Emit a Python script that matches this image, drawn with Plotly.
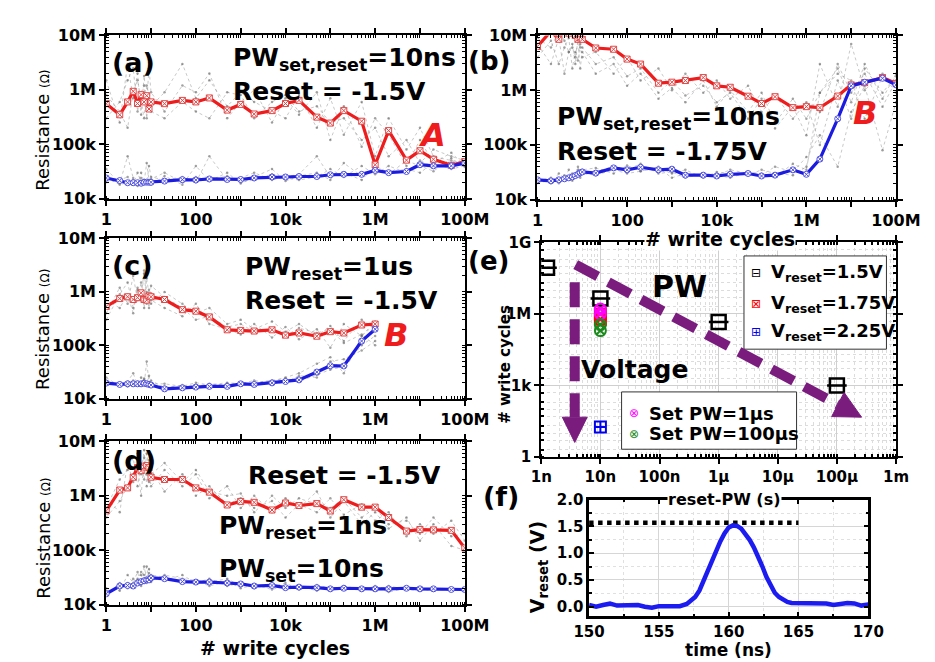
import math
import plotly.graph_objects as go

W, H = 935, 662
FONT = "DejaVu Sans"

# ---------------- data ----------------
cycles = [1, 2, 3, 4, 5, 6, 7, 8, 9, 10, 20, 50, 100, 200, 500,
          1e3, 2e3, 5e3, 1e4, 2e4, 5e4, 1e5, 2e5, 5e5, 1e6,
          2e6, 5e6, 1e7, 2e7, 5e7, 1e8]
cycles_c = cycles[:25]

# resistances in kOhm
a_hrs_k = [557, 348, 600, 940, 560, 815, 600, 780, 445, 600,
           557, 640, 600, 710, 425, 540, 360, 415, 560, 640,
           315, 245, 415, 265, 42, 178, 51, 76, 53, 41, 48]
a_lrs_k = [24, 21.5, 19.6, 19.6, 19.6, 19.2, 20, 20.1, 20, 20,
           21, 22.3, 22, 23, 22.5, 22.5, 24, 25, 25, 25.5,
           25.5, 27.5, 28, 28, 33, 30, 31.5, 42, 40, 40, 45]
a_gray_k = [
    [300, 600, 1500, 2500, 400, 900, 1200, 300, 700, 500, 900, 3000, 700, 1500, 500, 900,
     600, 400, 300, 800, 200, 700, 150, 600, 60, 300, 80, 200, 60, 50, 45],
    [800, 400, 200, 900, 1500, 600, 300, 1200, 800, 400, 300, 600, 400, 300, 900, 800,
     300, 600, 800, 400, 500, 250, 300, 120, 200, 60, 120, 45, 80, 60, 50],
    [1500, 250, 3000, 700, 2000, 350, 1800, 600, 2500, 900, 400, 1200, 900, 2000, 300, 600,
     1000, 250, 700, 350, 900, 120, 500, 90, 300, 150, 40, 120, 45, 70, 40],
    [20, 22, 25, 18, 30, 20, 22, 19, 40, 25, 22, 25, 20, 60, 22, 24,
     30, 22, 25, 28, 60, 25, 30, 22, 40, 30, 35, 30, 45, 35, 40],
    [25, 18, 20, 22, 17, 24, 19, 21, 20, 23, 30, 20, 25, 22, 26, 20,
     22, 28, 24, 22, 25, 35, 25, 40, 28, 40, 30, 50, 38, 42, 50],
    [35, 19, 60, 24, 18, 30, 20, 45, 22, 18, 26, 18, 40, 21, 30, 19,
     25, 35, 21, 26, 30, 22, 45, 26, 35, 28, 50, 40, 32, 55, 38],
]

b_hrs_k = [6300, 12000, 8500, 13000, 11000, 14000, 10000, 8500, 9000, 8500,
           5900, 5600, 3700, 3000, 1340, 1400, 1500, 1700, 1200, 1130,
           776, 570, 760, 480, 500, 480, 780, 1250, 1370, 1700, 1330]
b_lrs_k = [23, 22, 23, 24, 25, 26, 27.5, 29, 31, 32,
           30.5, 38, 35, 39, 35, 36, 28, 28, 27, 29,
           30, 27, 28, 35, 29, 55, 300, 1200, 1400, 1650, 1250]
b_gray_k = [
    [9000, 6000, 12000, 8000, 5000, 7000, 3000, 9000, 6000, 4000, 5000, 2000, 4000, 1500, 2500,
     1000, 2000, 900, 1500, 700, 1200, 400, 800, 300, 600, 100, 1500, 300, 2500, 900, 1800],
    [4000, 8000, 3000, 6000, 9000, 2500, 5000, 3500, 7000, 6000, 3000, 4000, 1800, 2500, 900,
     1500, 800, 1200, 600, 900, 300, 700, 200, 500, 150, 3000, 500, 7000, 1000, 2000, 900],
    [7000, 3000, 9000, 2000, 5000, 6000, 4000, 8000, 2500, 5000, 2000, 3000, 1200, 2000, 700,
     1100, 600, 1500, 500, 1000, 400, 900, 250, 700, 300, 900, 2500, 600, 3000, 700, 2000],
    [22, 25, 20, 28, 24, 30, 26, 35, 28, 30, 33, 40, 35, 45, 30,
     32, 25, 30, 28, 35, 30, 28, 40, 32, 60, 150, 40, 400, 1200, 80, 600],
    [20, 22, 24, 22, 26, 25, 30, 28, 32, 35, 38, 30, 42, 33, 38,
     25, 30, 26, 28, 25, 32, 30, 26, 45, 35, 900, 2000, 1500, 300, 1800, 1200],
    [25, 20, 30, 24, 35, 22, 28, 40, 25, 30, 28, 35, 30, 33, 40,
     30, 35, 25, 32, 30, 28, 35, 30, 28, 40, 400, 3000, 900, 2000, 500, 1500],
]

c_hrs_k = [534, 750, 810, 720, 780, 960, 720, 700, 840, 810,
           720, 465, 435, 340, 195, 190, 185, 195, 155, 170,
           148, 180, 170, 240, 250]
c_lrs_k = [19.6, 18.5, 19, 19, 19, 19, 19.5, 19, 18.5, 18,
           15.3, 16, 16.5, 17, 17, 19, 18.5, 19.8, 21, 22.5,
           31.6, 41.5, 41, 120, 200]
c_gray_k = [
    [400, 1200, 600, 2000, 700, 1500, 500, 1800, 900, 600, 1000, 600, 400, 500, 250,
     300, 200, 280, 180, 250, 150, 230, 120, 300, 200],
    [700, 500, 900, 400, 1200, 800, 2500, 600, 1100, 700, 500, 350, 600, 250, 200,
     160, 250, 140, 220, 130, 200, 90, 250, 150, 280],
    [300, 900, 1500, 500, 1100, 700, 2200, 1000, 500, 1300, 800, 500, 300, 350, 220,
     250, 180, 200, 150, 210, 170, 200, 110, 160, 100],
    [18, 20, 17, 22, 19, 25, 18, 50, 20, 18, 17, 16, 18, 17, 19,
     18, 20, 22, 24, 21, 28, 35, 40, 100, 150],
    [22, 18, 20, 19, 21, 18, 23, 20, 19, 22, 16, 18, 17, 19, 18,
     20, 19, 21, 25, 30, 45, 60, 30, 150, 250],
    [25, 17, 21, 30, 18, 20, 24, 19, 27, 19, 19, 17, 20, 18, 20,
     19, 22, 19, 20, 27, 25, 50, 55, 80, 120],
]

d_hrs_k = [527, 1280, 1400, 2200, 3300, 2900, 3400, 3600, 3300, 2200,
           2000, 2000, 1400, 1170, 680, 790, 760, 550, 740, 665,
           720, 527, 850, 620, 620, 400, 225, 240, 237, 232, 110]
d_lrs_k = [15.8, 22, 22.5, 22, 25, 26.5, 27.5, 28.5, 28.5, 31,
           30, 26.5, 26, 26, 25, 24, 22, 22.5, 20.5, 21,
           20.5, 19.5, 20, 19.5, 19.5, 19.5, 20, 19.5, 19.5, 19, 19]
d_gray_k = [
    [600, 2000, 3000, 5000, 1500, 4000, 2000, 6000, 3000, 1500, 3000, 1500, 2500, 900, 1500,
     600, 1000, 500, 900, 600, 1200, 400, 800, 300, 500, 250, 400, 150, 300, 120, 100],
    [400, 800, 1500, 2500, 3500, 1000, 5000, 2500, 1800, 3000, 1200, 2500, 1000, 1500, 700,
     900, 600, 800, 400, 700, 500, 900, 450, 700, 350, 500, 180, 300, 200, 350, 150],
    [900, 500, 4000, 1800, 6000, 2500, 7000, 1500, 4500, 2500, 4000, 1800, 3000, 1200, 1000,
     1100, 500, 1000, 600, 900, 700, 600, 900, 400, 600, 300, 350, 200, 400, 180, 200],
    [15, 25, 20, 30, 28, 40, 35, 25, 45, 30, 28, 35, 25, 30, 22,
     25, 20, 24, 19, 22, 18, 21, 19, 20, 18, 22, 19, 18, 20, 19, 18],
    [18, 20, 25, 22, 30, 35, 25, 50, 28, 35, 32, 25, 28, 22, 27,
     20, 23, 19, 22, 20, 21, 18, 22, 19, 21, 17, 20, 19, 18, 20, 17],
    [20, 18, 35, 25, 40, 22, 50, 30, 38, 26, 35, 30, 28, 26, 30,
     22, 24, 21, 25, 19, 23, 20, 21, 18, 22, 19, 21, 20, 19, 18, 20],
]

# (e) endurance vs reset pulse width
e_pw_15 = [1.25e-9, 1e-8, 1e-6, 1e-4]
e_cyc_15 = [8.7e7, 4.4e6, 4.6e5, 1.0e3]
e_pw_175 = [1e-8, 1e-8]
e_cyc_175 = [1.0e6, 6.0e5]
e_pw_225 = [1e-8]
e_cyc_225 = [18]
e_pw_set1us = [1e-8, 1e-8]
e_cyc_set1us = [1.6e6, 1.0e6]
e_pw_set100us = [1e-8, 1e-8]
e_cyc_set100us = [3.5e5, 2.0e5]

# (f) reset pulse waveform
f_time = [150.0, 150.5, 151.0, 151.5, 152.0, 152.5, 153.0, 153.5, 154.0, 154.5,
          155.0, 155.5, 156.0, 156.5, 157.0, 157.3, 157.6, 157.9, 158.2, 158.5,
          158.8, 159.1, 159.4, 159.7, 160.0, 160.3, 160.6, 160.9, 161.2, 161.5,
          161.8, 162.1, 162.4, 162.7, 163.0, 163.3, 163.6, 163.9, 164.2, 164.5,
          165.0, 165.5, 166.0, 166.5, 167.0, 167.5, 168.0, 168.5, 169.0, 169.5, 170.0]
f_volt = [0.03, 0.00, 0.03, 0.06, 0.02, 0.03, 0.03, 0.03, 0.00, -0.02,
          0.01, 0.01, 0.02, 0.01, 0.05, 0.13, 0.18, 0.30, 0.49, 0.67,
          0.85, 1.04, 1.22, 1.37, 1.48, 1.52, 1.51, 1.46, 1.37, 1.25,
          1.11, 0.95, 0.76, 0.56, 0.40, 0.26, 0.18, 0.13, 0.09, 0.07,
          0.07, 0.08, 0.07, 0.08, 0.06, 0.03, 0.06, 0.07, 0.06, 0.02, 0.04]
f_level_time = [150, 165]
f_level_volt = [1.57, 1.57]

# tick labels
res_x_tickvals = [1, 10, 100, 1e3, 1e4, 1e5, 1e6, 1e7, 1e8]
res_x_ticktext = ["1", "", "100", "", "10k", "", "1M", "", "100M"]
res_y_tickvals = [1e4, 1e5, 1e6, 1e7]
res_y_ticktext = ["10k", "100k", "1M", "10M"]
e_x_tickvals = [1e-9, 1e-8, 1e-7, 1e-6, 1e-5, 1e-4, 1e-3]
e_x_ticktext = ["1n", "10n", "100n", "1μ", "10μ", "100μ", "1m"]
e_y_tickvals = [1, 1e3, 1e6, 1e9]
e_y_ticktext = ["1", "1k", "1M", "1G"]
f_x_tickvals = [150, 155, 160, 165, 170]
f_y_tickvals = [0.0, 0.5, 1.0, 1.5, 2.0]

RED = "#ee1c1c"
BLUE = "#1c1ce0"
PURPLE = "#7a1c7e"

fig = go.Figure()


def kohm(vals):
    return [v * 1e3 for v in vals]


def add_panel(xs, hrs, lrs, grays, n):
    xa = "x" if n == 1 else f"x{n}"
    ya = "y" if n == 1 else f"y{n}"
    for g in grays:
        fig.add_trace(go.Scatter(
            x=xs, y=kohm(g), xaxis=xa, yaxis=ya, mode="lines+markers",
            line=dict(color="rgba(140,140,140,0.6)", width=0.8, dash="dot"),
            marker=dict(size=2.5, color="rgba(100,100,100,0.6)"),
            showlegend=False, hoverinfo="skip"))
    fig.add_trace(go.Scatter(
        x=xs, y=kohm(hrs), xaxis=xa, yaxis=ya, mode="lines+markers",
        line=dict(color=RED, width=3.2),
        marker=dict(symbol="square-x", size=6, color="white",
                    line=dict(color="#e04848", width=1)),
        showlegend=False))
    fig.add_trace(go.Scatter(
        x=xs, y=kohm(lrs), xaxis=xa, yaxis=ya, mode="lines+markers",
        line=dict(color=BLUE, width=3.2),
        marker=dict(symbol="circle-x", size=6, color="white",
                    line=dict(color="#5050e0", width=1)),
        showlegend=False))


add_panel(cycles, a_hrs_k, a_lrs_k, a_gray_k, 1)
add_panel(cycles, b_hrs_k, b_lrs_k, b_gray_k, 2)
add_panel(cycles_c, c_hrs_k, c_lrs_k, c_gray_k, 3)
add_panel(cycles, d_hrs_k, d_lrs_k, d_gray_k, 4)

# (e)
fig.add_trace(go.Scatter(x=e_pw_15, y=e_cyc_15, xaxis="x5", yaxis="y5", mode="markers",
                         marker=dict(symbol="square-open", size=14, color="black",
                                     line=dict(width=2.5)), showlegend=False))
fig.add_trace(go.Scatter(x=e_pw_15, y=e_cyc_15, xaxis="x5", yaxis="y5", mode="markers",
                         marker=dict(symbol="line-ew-open", size=14, color="black",
                                     line=dict(width=2.5)), showlegend=False))
fig.add_trace(go.Scatter(x=e_pw_175, y=e_cyc_175, xaxis="x5", yaxis="y5", mode="markers",
                         marker=dict(symbol="square-x-open", size=11, color="red",
                                     line=dict(width=2)), showlegend=False))
fig.add_trace(go.Scatter(x=e_pw_set1us, y=e_cyc_set1us, xaxis="x5", yaxis="y5", mode="markers",
                         marker=dict(symbol="circle-x-open", size=11, color="#ff00ff",
                                     line=dict(width=2)), showlegend=False))
fig.add_trace(go.Scatter(x=e_pw_set100us, y=e_cyc_set100us, xaxis="x5", yaxis="y5", mode="markers",
                         marker=dict(symbol="circle-x-open", size=11, color="#1a8a1a",
                                     line=dict(width=2)), showlegend=False))
fig.add_trace(go.Scatter(x=e_pw_225, y=e_cyc_225, xaxis="x5", yaxis="y5", mode="markers",
                         marker=dict(symbol="square-cross-open", size=11, color="#0000ee",
                                     line=dict(width=2)), showlegend=False))

# (f)
fig.add_trace(go.Scatter(x=f_level_time, y=f_level_volt, xaxis="x6", yaxis="y6", mode="lines",
                         line=dict(color="black", width=4.5, dash="4.5px,4.5px"), showlegend=False))
fig.add_trace(go.Scatter(x=f_time, y=f_volt, xaxis="x6", yaxis="y6", mode="lines",
                         line=dict(color="#1c1cf0", width=4.5), showlegend=False))


def pxdom(a, b, axis="x"):
    if axis == "x":
        return [a / W, b / W]
    return [1 - b / H, 1 - a / H]


def frame(**kw):
    d = dict(showline=True, linecolor="black", linewidth=2, mirror="ticks",
             ticks="outside", ticklen=5, tickwidth=1.5, tickcolor="black",
             showgrid=False, zeroline=False,
             tickfont=dict(family=FONT, size=16, color="black", weight="bold"))
    d.update(kw)
    return d


minor_log = dict(ticks="inside", ticklen=3, tickwidth=1, tickcolor="black", dtick="D1")

panels = {
    1: ((86, 461), (19, 187)),
    2: ((537, 912), (19, 188)),
    3: ((86, 461), (228, 393)),
    4: ((86, 461), (437, 605)),
}
lay = {}
for n, (xd, yd) in panels.items():
    xk = "xaxis" if n == 1 else f"xaxis{n}"
    yk = "yaxis" if n == 1 else f"yaxis{n}"
    xa = "x" if n == 1 else f"x{n}"
    ya = "y" if n == 1 else f"y{n}"
    lay[xk] = frame(type="log", range=[0, 8], domain=pxdom(*xd, "x"), anchor=ya,
                    tickmode="array", tickvals=res_x_tickvals, ticktext=res_x_ticktext,
                    minor=minor_log)
    lay[yk] = frame(type="log", range=[4, 7], domain=pxdom(*yd, "y"), anchor=xa,
                    tickmode="array", tickvals=res_y_tickvals, ticktext=res_y_ticktext,
                    minor=minor_log)

# (e)
lay["xaxis5"] = frame(type="log", range=[-9, -3], domain=pxdom(541, 912, "x"), anchor="y5",
                      tickmode="array", tickvals=e_x_tickvals, ticktext=e_x_ticktext,
                      showgrid=True, gridcolor="#cfcfcf", gridwidth=1,
                      tickfont=dict(family=FONT, size=15, color="black", weight="bold"),
                      minor=dict(ticks="inside", ticklen=3, tickcolor="black", dtick="D1",
                                 showgrid=True, gridcolor="#dcdcdc", griddash="dot"))
lay["yaxis5"] = frame(type="log", range=[0, 9], domain=pxdom(232, 453, "y"), anchor="x5",
                      tickmode="array", tickvals=e_y_tickvals, ticktext=e_y_ticktext,
                      showgrid=True, gridcolor="#cfcfcf", gridwidth=1,
                      tickfont=dict(family=FONT, size=15, color="black", weight="bold"),
                      minor=dict(ticks="inside", ticklen=3, tickcolor="black", dtick="D2",
                                 showgrid=True, gridcolor="#dcdcdc", griddash="dot"))
# (f)
lay["xaxis6"] = frame(range=[150, 170], domain=pxdom(591, 883, "x"), anchor="y6",
                      tickmode="array", tickvals=f_x_tickvals, ticks="inside", linewidth=2.5,
                      showgrid=True, gridcolor="#d6d6d6",
                      tickfont=dict(family=FONT, size=15, color="black", weight="bold"),
                      minor=dict(ticks="inside", ticklen=3, tickcolor="black", dtick=2.5,
                                 showgrid=True, gridcolor="#e0e0e0", griddash="dot"))
lay["yaxis6"] = frame(range=[-0.18, 2.0], domain=pxdom(497, 617, "y"), anchor="x6",
                      tickmode="array", tickvals=f_y_tickvals, tickformat=".1f", ticks="inside",
                      linewidth=2.5, showgrid=True, gridcolor="#d6d6d6",
                      tickfont=dict(family=FONT, size=15, color="black", weight="bold"),
                      minor=dict(ticks="inside", ticklen=3, tickcolor="black", dtick=0.25,
                                 showgrid=True, gridcolor="#e0e0e0", griddash="dot"))

annotations = []


def ann(text, x, y, size, color="black", xanchor="left", yanchor="middle", angle=0, bg=None):
    a = dict(text=text, x=x / W, y=1 - y / H, xref="paper", yref="paper",
             xanchor=xanchor, yanchor=yanchor, showarrow=False, textangle=angle,
             font=dict(family=FONT, size=size, color=color))
    if bg:
        a["bgcolor"] = bg
        a["borderpad"] = 0
    annotations.append(a)


RES_TITLE = "Resistance <span style='font-size:12px'>(Ω)</span>"
# (a)
ann("<b>(a)</b>", 90, 47, 27)
ann("<b>PW<sub>set,reset</sub>=10ns</b>", 217, 43, 25)
ann("<b>Reset = -1.5V</b>", 217, 77, 25)
ann("<b><i>A</i></b>", 427, 121, 32, color=RED, xanchor="center")
ann(RES_TITLE, 20, 117, 18, xanchor="center", angle=-90)
# (b)
ann("<b>(b)</b>", 462, 45, 26)
ann("<b>PW<sub>set,reset</sub>=10ns</b>", 555, 104, 25)
ann("<b>Reset = -1.75V</b>", 555, 138, 25)
ann("<b><i>B</i></b>", 880, 99, 32, color=RED, xanchor="center")
ann("<b># write cycles</b>", 728, 229, 19, xanchor="center", bg="white")
# (c)
ann("<b>(c)</b>", 90, 256, 27)
ann("<b>PW<sub>reset</sub>=1us</b>", 229, 258, 25)
ann("<b>Reset = -1.5V</b>", 229, 292, 25)
ann("<b><i>B</i></b>", 389, 327, 32, color=RED, xanchor="center")
ann(RES_TITLE, 20, 322, 18, xanchor="center", angle=-90)
# (d)
ann("<b>(d)</b>", 90, 457, 27)
ann("<b>Reset = -1.5V</b>", 232, 472, 25)
ann("<b>PW<sub>reset</sub>=1ns</b>", 202, 525, 25)
ann("<b>PW<sub>set</sub>=10ns</b>", 202, 569, 25)
ann(RES_TITLE, 20, 537, 18, xanchor="center", angle=-90)
ann("<b># write cycles</b>", 262, 650, 19, xanchor="center")
# (e)
ann("<b>(e)</b>", 462, 251, 26)
ann("<b># write cycles</b>", 503, 357, 15, xanchor="center", angle=-90)
ann("<b>PW</b>", 686, 277, 30, xanchor="center")
ann("<b>Voltage</b>", 638, 363, 25, xanchor="center")
ann("<b>reset-PW (s)</b>", 733, 497, 16, xanchor="center", bg="white")
# legend 1 (e)
ann("⊟", 766, 264, 12, xanchor="center")
ann("⊠", 766, 295, 12, color="red", xanchor="center")
ann("⊞", 766, 324, 12, color="#0000ee", xanchor="center")
ann("<b>V<sub>reset</sub>=1.5V</b>", 779, 264, 18)
ann("<b>V<sub>reset</sub>=1.75V</b>", 779, 295, 18)
ann("<b>V<sub>reset</sub>=2.25V</b>", 779, 324, 18)
# legend 2 (e)
ann("⊗", 638, 408, 12, color="#ff00ff", xanchor="center")
ann("⊗", 638, 429, 12, color="#1a8a1a", xanchor="center")
ann("<b>Set PW=1μs</b>", 652, 408, 18)
ann("<b>Set PW=100μs</b>", 652, 429, 18)
# (f)
ann("<b>(f)</b>", 478, 494, 27)
ann("<b>V<sub>reset</sub> (V)</b>", 538, 566, 19, xanchor="center", angle=-90)
ann("<b>time (ns)</b>", 737, 652, 17, xanchor="center")

shapes = []


def pp(x, y):
    return x / W, 1 - y / H


# legend boxes
for (x0, y0, x1, y1) in [(753, 246, 902, 342), (625, 386, 808, 445)]:
    a0, b0 = pp(x0, y1)
    a1, b1 = pp(x1, y0)
    shapes.append(dict(type="rect", xref="paper", yref="paper", x0=a0, y0=b0, x1=a1, y1=b1,
                       line=dict(color="#333333", width=1), fillcolor="white", layer="above"))


def arrow(xs, ys, xe, ye, head=(28, 14)):
    dx, dy = xe - xs, ye - ys
    L = math.hypot(dx, dy)
    ux, uy = dx / L, dy / L
    hl, hw = head
    bx, by = xe - ux * hl, ye - uy * hl
    px_, py_ = -uy * hw, ux * hw
    a0, b0 = pp(xs, ys)
    a1, b1 = pp(bx, by)
    shapes.append(dict(type="line", xref="paper", yref="paper", x0=a0, y0=b0, x1=a1, y1=b1,
                       line=dict(color=PURPLE, width=10, dash="25px,12px"), layer="above"))
    pts = [pp(xe, ye), pp(bx + px_, by + py_), pp(bx - px_, by - py_)]
    path = "M {:.5f} {:.5f} L {:.5f} {:.5f} L {:.5f} {:.5f} Z".format(
        pts[0][0], pts[0][1], pts[1][0], pts[1][1], pts[2][0], pts[2][1])
    shapes.append(dict(type="path", xref="paper", yref="paper", path=path,
                       fillcolor=PURPLE, line=dict(color=PURPLE, width=1), layer="above"))


arrow(577, 255, 876, 412)
arrow(576, 273, 576, 438, head=(26, 13))

fig.update_layout(
    width=W, height=H, margin=dict(l=0, r=0, t=0, b=0),
    paper_bgcolor="white", plot_bgcolor="white",
    font=dict(family=FONT, color="black"),
    showlegend=False,
    annotations=annotations, shapes=shapes,
    **lay,
)

fig.write_html("out.html")
